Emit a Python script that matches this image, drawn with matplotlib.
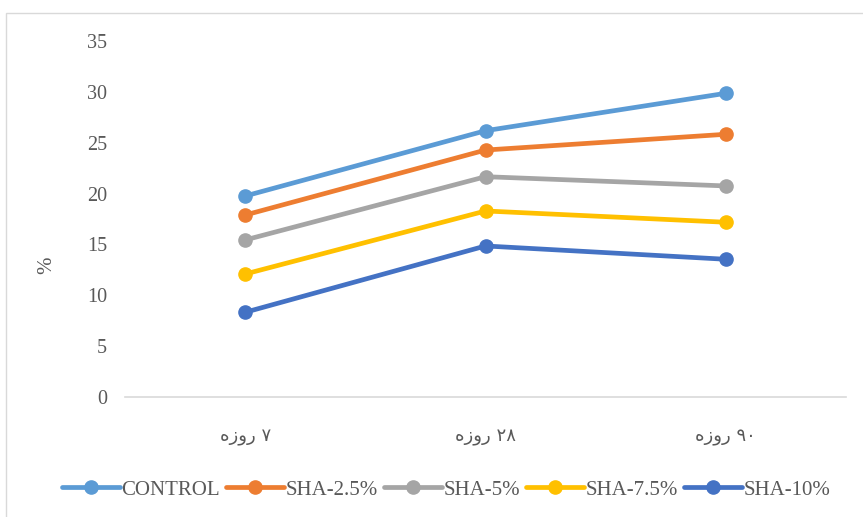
import matplotlib
matplotlib.use("Agg")
import matplotlib.pyplot as plt
from matplotlib.patches import Rectangle

# curing age labels (logical order) and the series measured at each age
ages = ["۷ روزه", "۲۸ روزه", "۹۰ روزه"]
series_names = ["CONTROL", "SHA-2.5%", "SHA-5%", "SHA-7.5%", "SHA-10%"]
control = [19.76, 26.18, 29.86]
sha_2_5 = [17.89, 24.28, 25.83]
sha_5 = [15.44, 21.66, 20.75]
sha_7_5 = [12.09, 18.29, 17.18]
sha_10 = [8.33, 14.85, 13.54]
colors = ["#5B9BD5", "#ED7D31", "#A5A5A5", "#FFC000", "#4472C4"]


def visual_rtl(text):
    # matplotlib has no bidi support: flip word order and reverse Arabic-script words
    words = text.split(" ")[::-1]
    out = []
    for w in words:
        if any("\u0621" <= ch <= "\u064A" for ch in w):
            out.append(w[::-1])
        else:
            out.append(w)
    return " ".join(out)


fig = plt.figure(figsize=(8.63, 5.17), dpi=100)
ax = fig.add_axes([125 / 863, 1 - 397 / 517, 721 / 863, 356 / 517])

x = list(range(len(ages)))
for name, vals, c in zip(series_names, [control, sha_2_5, sha_5, sha_7_5, sha_10], colors):
    ax.plot(x, vals, color=c, lw=3.4, marker="o", ms=9.5, label=name,
            solid_capstyle="round")

ax.set_xlim(-0.5, 2.5)
ax.set_ylim(0, 35)
ax.set_yticks(range(0, 36, 5))
ax.set_yticklabels([str(v) for v in range(0, 36, 5)],
                   fontfamily="Liberation Serif", fontsize=14.5, color="#595959")
ax.set_xticks(x)
ax.set_xticklabels([visual_rtl(a) for a in ages], fontfamily="DejaVu Sans",
                   fontsize=13, color="#595959")
ax.tick_params(axis="y", length=0, pad=13)
ax.tick_params(axis="x", length=0, pad=22)
for s in ["top", "right", "left"]:
    ax.spines[s].set_visible(False)
ax.spines["bottom"].set_color("#D9D9D9")
ax.spines["bottom"].set_linewidth(1.2)

fig.text(47 / 863, 1 - 265 / 517, "%", rotation=90, ha="center", va="center",
         fontfamily="Liberation Serif", fontsize=15, color="#595959")

leg = fig.legend(loc="center", bbox_to_anchor=(446 / 863, 1 - 490 / 517), ncol=5,
                 frameon=False, handlelength=2.8, handletextpad=0.05,
                 columnspacing=0.3, prop={"family": "Liberation Serif", "size": 15})
for t in leg.get_texts():
    t.set_color("#595959")

# chart area border, clipped by the image on the right and bottom
fig.add_artist(Rectangle((5.5 / 863, -0.1), 1.2, 1 - 12.5 / 517 + 0.1,
                         transform=fig.transFigure, fill=False,
                         edgecolor="#D9D9D9", lw=1.0))

fig.savefig("out.png", dpi=100)
